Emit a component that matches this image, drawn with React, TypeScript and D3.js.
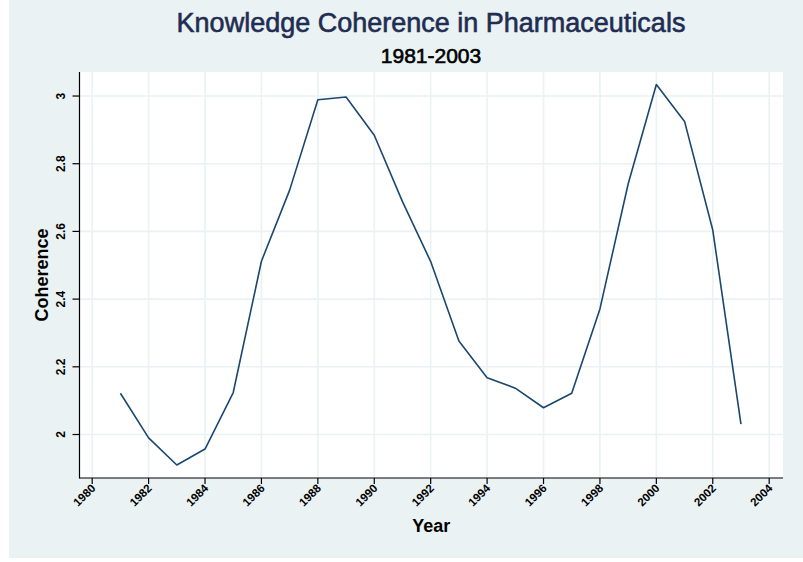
import React from "react";
import * as d3 from "d3";

const years = [1981,1982,1983,1984,1985,1986,1987,1988,1989,1990,1991,1992,1993,1994,1995,1996,1997,1998,1999,2000,2001,2002,2003];
const coherence = [2.122,1.990,1.910,1.957,2.124,2.512,2.722,2.989,2.997,2.884,2.688,2.511,2.276,2.168,2.137,2.079,2.122,2.371,2.74,3.034,2.925,2.604,2.031];
const xTicks = [1980,1982,1984,1986,1988,1990,1992,1994,1996,1998,2000,2002,2004];
const yTicks = [2,2.2,2.4,2.6,2.8,3];
const yTickLabels = ["2","2.2","2.4","2.6","2.8","3"];

const W = 803, H = 562;
const L = 79.5, R = 783, T = 72, B = 478;
const FONT = "'Liberation Sans', Arial, Helvetica, sans-serif";
const BG = "#eaf2f3";
const LINE = "#1a476f";

export default function App() {
  const x = d3.scaleLinear().domain([1979.55, 2004.49]).range([L, R]);
  const y = d3.scaleLinear().domain([1.8715, 3.071]).range([B, T]);
  const line = d3.line<number>().x((_, i) => x(years[i])).y((d) => y(d));
  return (
    <svg width={W} height={H} style={{ position: "absolute", left: 0, top: 0 }} fontFamily={FONT}>
      <rect x={0} y={0} width={W} height={H} fill="#ffffff" />
      <rect x={9} y={0} width={W - 9} height={558} fill={BG} />
      <rect x={L} y={T} width={R - L} height={B - T} fill="#ffffff" />
      {yTicks.map((t) => (
        <line key={"gy" + t} x1={L} x2={R} y1={y(t)} y2={y(t)} stroke={BG} strokeWidth={1.6} />
      ))}
      {xTicks.map((t) => (
        <line key={"gx" + t} x1={x(t)} x2={x(t)} y1={T} y2={B} stroke={BG} strokeWidth={1.6} />
      ))}
      <path d={line(coherence) || ""} fill="none" stroke={LINE} strokeWidth={1.6} strokeLinejoin="round" />
      <line x1={L} x2={L} y1={T} y2={B + 0.5} stroke="#000" strokeWidth={1.2} />
      <line x1={L} x2={R} y1={B} y2={B} stroke="#000" strokeWidth={1.2} />
      {yTicks.map((t, i) => (
        <g key={"ty" + t}>
          <line x1={L - 7} x2={L} y1={y(t)} y2={y(t)} stroke="#000" strokeWidth={1.2} />
          <text
            transform={`translate(${65},${y(t)}) rotate(-90)`}
            textAnchor="middle"
            fontSize={12}
            fontWeight="bold"
            fill="#000"
          >
            {yTickLabels[i]}
          </text>
        </g>
      ))}
      {xTicks.map((t) => (
        <g key={"tx" + t}>
          <line x1={x(t)} x2={x(t)} y1={B} y2={B + 6} stroke="#000" strokeWidth={1.2} />
          <text
            transform={`translate(${x(t) + 4},${B + 11}) rotate(-45)`}
            textAnchor="end"
            fontSize={11.5}
            fontWeight="bold"
            fill="#000"
          >
            {t}
          </text>
        </g>
      ))}
      <text x={(L + R) / 2} y={532} textAnchor="middle" fontSize={18} fontWeight="bold" fill="#000">
        Year
      </text>
      <text
        transform={`translate(${48},${(T + B) / 2}) rotate(-90)`}
        textAnchor="middle"
        fontSize={18}
        fontWeight="bold"
        fill="#000"
      >
        Coherence
      </text>
      <text x={431} y={32} textAnchor="middle" fontSize={27} fill="#1f2d52" stroke="#1f2d52" strokeWidth={0.6}>
        Knowledge Coherence in Pharmaceuticals
      </text>
      <text x={431} y={63} textAnchor="middle" fontSize={21} fill="#000" stroke="#000" strokeWidth={0.6}>
        1981-2003
      </text>
    </svg>
  );
}
